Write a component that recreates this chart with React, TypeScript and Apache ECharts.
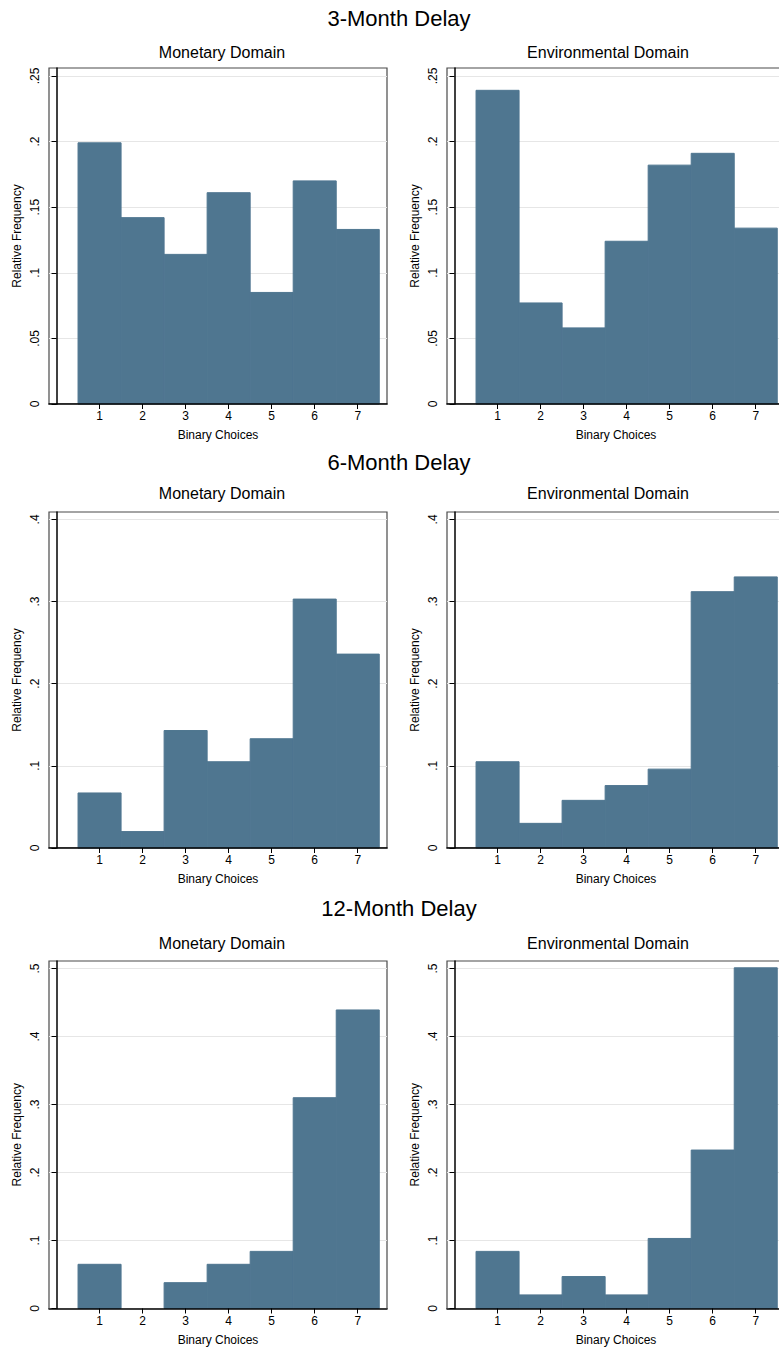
import React, { useEffect, useRef } from "react";
import * as echarts from "echarts";

const categories = [1, 2, 3, 4, 5, 6, 7];
const monetary3 = [0.199, 0.142, 0.114, 0.161, 0.085, 0.170, 0.133];
const environmental3 = [0.239, 0.077, 0.058, 0.124, 0.182, 0.191, 0.134];
const monetary6 = [0.067, 0.020, 0.143, 0.105, 0.133, 0.303, 0.236];
const environmental6 = [0.105, 0.030, 0.058, 0.076, 0.096, 0.312, 0.330];
const monetary12 = [0.065, 0, 0.038, 0.065, 0.084, 0.310, 0.439];
const environmental12 = [0.084, 0.020, 0.047, 0.020, 0.103, 0.233, 0.501];

const yTicks3 = [0, 0.05, 0.1, 0.15, 0.2, 0.25];
const yTicks6 = [0, 0.1, 0.2, 0.3, 0.4];
const yTicks12 = [0, 0.1, 0.2, 0.3, 0.4, 0.5];

const rowTitles = ["3-Month Delay", "6-Month Delay", "12-Month Delay"];
const panelTitles = ["Monetary Domain", "Environmental Domain"];
const xAxisName = "Binary Choices";
const yAxisName = "Relative Frequency";

const FONT = '"Liberation Sans", Arial, Helvetica, sans-serif';
const BAR = "#4f7690";

const fmtY = (v: number) => {
  if (Math.abs(v) < 1e-9) return "0";
  return String(+v.toFixed(2)).replace(/^0/, "");
};

export default function App() {
  const ref = useRef<HTMLDivElement>(null);
  useEffect(() => {
    if (!ref.current) return;
    const chart = echarts.init(ref.current, null, { renderer: "svg" });

    const rows = [
      { top: 68, height: 336, max: 0.256, interval: 0.05, ticks: yTicks3, data: [monetary3, environmental3], titleY: 18, subY: 52 },
      { top: 512, height: 336, max: 0.409, interval: 0.1, ticks: yTicks6, data: [monetary6, environmental6], titleY: 462, subY: 493 },
      { top: 961, height: 347.5, max: 0.511, interval: 0.1, ticks: yTicks12, data: [monetary12, environmental12], titleY: 908, subY: 943 },
    ];
    const cols = [
      { left: 49, width: 338, titleX: 222 },
      { left: 447, width: 338, titleX: 608 },
    ];

    const grids: any[] = [];
    const xAxes: any[] = [];
    const yAxes: any[] = [];
    const series: any[] = [];
    const graphics: any[] = [];

    rows.forEach((r, ri) => {
      graphics.push({
        type: "text",
        x: 399,
        y: r.titleY,
        style: {
          text: rowTitles[ri],
          font: `22px ${FONT}`,
          fill: "#000",
          textAlign: "center",
          textVerticalAlign: "middle",
          align: "center",
          verticalAlign: "middle",
        },
      });
      cols.forEach((c, ci) => {
        const idx = grids.length;
        graphics.push({
          type: "text",
          x: c.titleX,
          y: r.subY,
          style: {
            text: panelTitles[ci],
            font: `16px ${FONT}`,
            fill: "#000",
            textAlign: "center",
            textVerticalAlign: "middle",
            align: "center",
            verticalAlign: "middle",
          },
        });
        grids.push({
          left: c.left,
          top: r.top,
          width: c.width,
          height: r.height,
          show: true,
          borderColor: "#4a4a4a",
          borderWidth: 1.2,
          backgroundColor: "transparent",
        });
        xAxes.push({
          type: "value",
          gridIndex: idx,
          min: -0.175,
          max: 7.68,
          z: 5,
          name: xAxisName,
          nameLocation: "middle",
          nameGap: 25,
          nameTextStyle: { fontFamily: FONT, fontSize: 12, color: "#000" },
          axisLine: { show: true, onZero: false, lineStyle: { color: "#000", width: 1.5 } },
          axisTick: { show: true, length: 5, lineStyle: { color: "#000" }, customValues: categories },
          axisLabel: {
            show: true,
            margin: 6,
            fontFamily: FONT,
            fontSize: 12,
            color: "#000",
            customValues: categories,
            formatter: (v: number) => (Number.isInteger(v) && v >= 1 && v <= 7 ? String(v) : ""),
          },
          splitLine: { show: false },
        });
        yAxes.push({
          type: "value",
          gridIndex: idx,
          min: 0,
          max: r.max,
          interval: r.interval,
          z: 0,
          name: yAxisName,
          nameLocation: "middle",
          nameGap: 26,
          nameRotate: 90,
          nameTextStyle: { fontFamily: FONT, fontSize: 12, color: "#000" },
          axisLine: { show: true, lineStyle: { color: "#000", width: 1.5 } },
          axisTick: { show: true, length: 5, lineStyle: { color: "#000" }, customValues: r.ticks },
          axisLabel: {
            show: true,
            rotate: 90,
            margin: 8,
            fontFamily: FONT,
            fontSize: 12,
            color: "#000",
            customValues: r.ticks,
            formatter: (v: number) => {
              const ok = r.ticks.some((t) => Math.abs(t - v) < 1e-6);
              return ok ? fmtY(v) : "";
            },
          },
          splitLine: { show: true, lineStyle: { color: "#e6e6e6", width: 1 } },
        });
        series.push({
          type: "custom",
          xAxisIndex: idx,
          yAxisIndex: idx,
          z: 2,
          clip: false,
          data: categories.map((k, i) => [k, r.data[ci][i]]),
          renderItem: (params: any, api: any) => {
            const x = api.value(0);
            const v = api.value(1);
            if (!v) return null;
            const p0 = api.coord([x - 0.5, v]);
            const p1 = api.coord([x + 0.5, 0]);
            return {
              type: "rect",
              shape: { x: p0[0], y: p0[1], width: p1[0] - p0[0], height: p1[1] - p0[1] },
              style: { fill: BAR, stroke: BAR, lineWidth: 1 },
            };
          },
        });
      });
    });

    chart.setOption({
      animation: false,
      backgroundColor: "#ffffff",
      textStyle: { fontFamily: FONT },
      grid: grids,
      xAxis: xAxes,
      yAxis: yAxes,
      series,
      graphic: graphics,
    });

    return () => chart.dispose();
  }, []);

  return (
    <div style={{ position: "absolute", left: 0, top: 0, width: 779, height: 1348, overflow: "hidden", background: "#fff" }}>
      <div ref={ref} style={{ width: 800, height: 1348 }} />
    </div>
  );
}
